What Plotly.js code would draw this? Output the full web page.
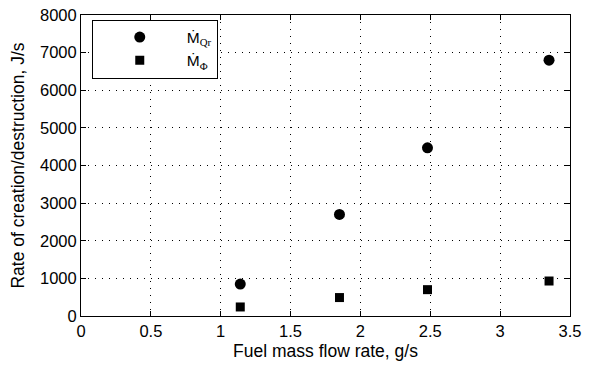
<!DOCTYPE html>
<html><head><meta charset="utf-8">
<script src="https://cdn.plot.ly/plotly-3.0.1.min.js"></script>
<style>html,body{margin:0;padding:0;background:#fff}#c{width:589px;height:369px}</style>
</head><body><div id="c"></div>
<script>
const fuelFlow = [1.14, 1.85, 2.48, 3.35];
const mQr = [850, 2700, 4470, 6800];
const mPhi = [240, 490, 700, 930];
const seriesNames = [
  'M\u0307<sub><span style="font-family:Liberation Serif">Qr</span></sub>',
  'M\u0307<sub><span style="font-family:Liberation Serif">\u03A6</span></sub>'
];

const axisCommon = {
  showline: true, linecolor: '#000', linewidth: 1, mirror: 'ticks',
  ticks: 'inside', ticklen: 5, tickcolor: '#000',
  showgrid: true, gridcolor: '#000', gridwidth: 1, griddash: '1px,6px',
  zeroline: false, tickfont: {family: 'Liberation Sans, Arial', size: 16.5, color: '#000'}
};
const data = [
  {x: fuelFlow, y: mQr, mode: 'markers', type: 'scatter', name: seriesNames[0],
   marker: {symbol: 'circle', size: 11, color: '#000'}},
  {x: fuelFlow, y: mPhi, mode: 'markers', type: 'scatter', name: seriesNames[1],
   marker: {symbol: 'square', size: 9, color: '#000'}}
];
const layout = {
  width: 589, height: 369,
  margin: {l: 81, r: 19, t: 15, b: 53},
  paper_bgcolor: '#fff', plot_bgcolor: '#fff',
  font: {family: 'Liberation Sans, Arial', size: 16.5, color: '#000'},
  xaxis: Object.assign({}, axisCommon, {range: [0, 3.5], dtick: 0.5,
    title: {text: 'Fuel mass flow rate, g/s', font: {size: 17.5}, standoff: 5}}),
  yaxis: Object.assign({}, axisCommon, {range: [0, 8000], dtick: 1000,
    title: {text: 'Rate of creation/destruction, J/s', font: {size: 17.5}, standoff: 10}}),
  showlegend: true,
  legend: {x: 0.022, y: 0.985, xanchor: 'left', yanchor: 'top',
    bgcolor: '#fff', bordercolor: '#000', borderwidth: 1,
    font: {size: 15.5, family: 'Liberation Sans, Arial'}, itemwidth: 84,
    tracegroupgap: 0}
};
Plotly.newPlot('c', data, layout, {displayModeBar: false, staticPlot: true});
</script></body></html>
